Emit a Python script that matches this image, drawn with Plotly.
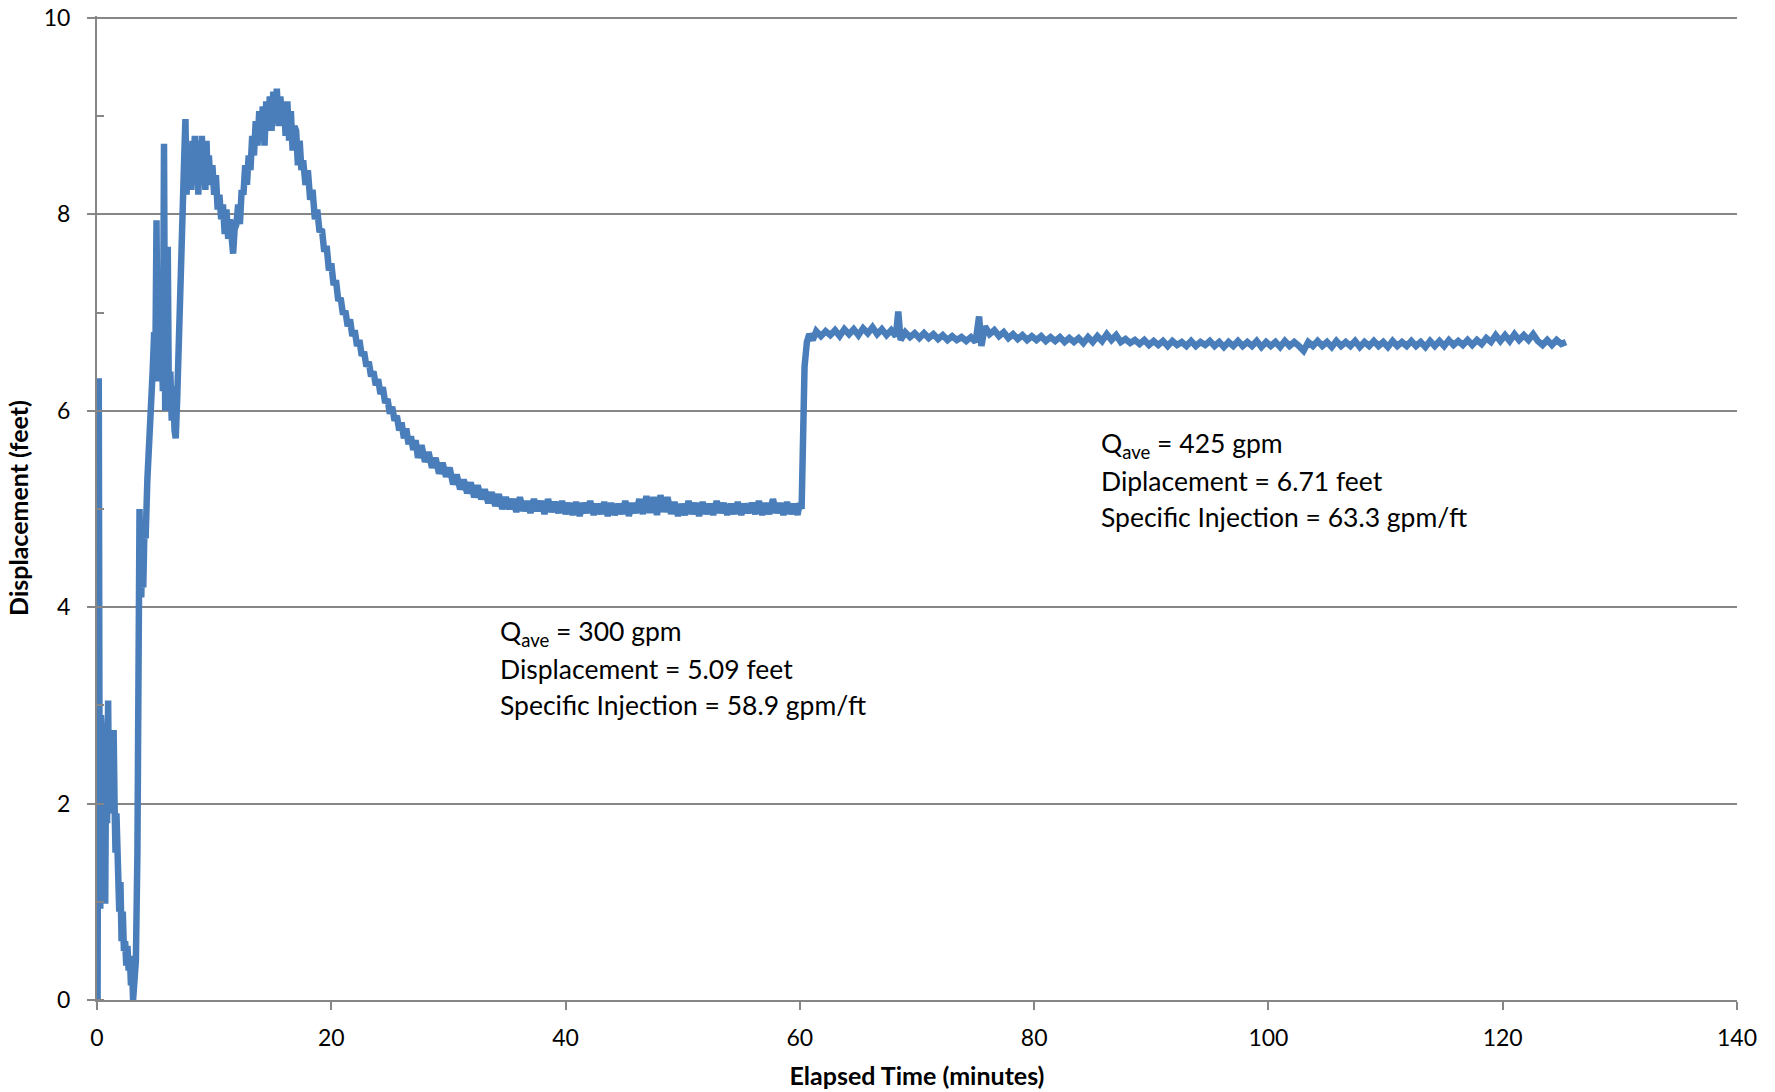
import plotly.graph_objects as go

# Elapsed time (minutes) and displacement (feet)
time_a = [0.05, 0.15, 0.22, 0.28, 0.34, 0.4, 0.46, 0.52, 0.58, 0.64, 0.7, 0.78, 0.86, 0.95, 1.02, 1.1,
          1.18, 1.26, 1.34, 1.42, 1.5, 1.58, 1.66, 1.74, 1.82, 1.9, 2.0, 2.1, 2.2, 2.3, 2.4, 2.5,
          2.6, 2.7, 2.8, 2.9, 3.0, 3.08, 3.2, 3.32, 3.45, 3.55, 3.63, 3.7, 3.78, 3.86, 3.95, 4.05,
          4.15, 4.3, 4.45, 4.6, 4.75, 4.88, 4.98, 5.08, 5.18, 5.28, 5.38, 5.5, 5.62, 5.72, 5.82, 5.92,
          6.04, 6.14, 6.26, 6.38, 6.5, 6.62, 6.72, 6.84, 6.96, 7.08, 7.2, 7.32, 7.45, 7.55, 7.65, 7.75,
          7.85, 7.95]
disp_a = [0.0, 6.33, 2.2, 0.93, 2.9, 1.7, 2.6, 1.9, 2.8, 1.6, 0.98, 2.5, 1.8, 3.05, 2.0, 2.75,
          1.9, 2.7, 2.0, 2.75, 2.0, 1.5, 1.9, 1.2, 1.4, 0.9, 1.2, 0.6, 0.9, 0.5, 0.6, 0.35,
          0.55, 0.3, 0.45, 0.15, 0.3, 0.0, 0.2, 0.4, 1.5, 3.3, 5.0, 4.3, 4.1, 4.6, 4.2, 4.8,
          4.7, 5.3, 5.6, 6.0, 6.4, 6.8, 6.5, 7.94, 6.3, 6.9, 6.4, 6.9, 6.2, 8.72, 6.0, 6.6,
          7.67, 6.0, 6.4, 5.9, 6.25, 5.8, 5.72, 6.1, 6.7, 7.4, 7.8, 8.3, 8.6, 8.97, 8.2, 8.7,
          8.3, 8.6]

time_b = [8.05, 8.15, 8.25, 8.35, 8.45, 8.55, 8.65, 8.75, 8.85, 8.95, 9.05, 9.15, 9.25, 9.35, 9.45, 9.55,
          9.7, 9.85, 10.0, 10.15, 10.3, 10.45, 10.6, 10.75, 10.9, 11.05, 11.2, 11.35, 11.5, 11.62, 11.75, 11.9,
          12.05, 12.2, 12.35, 12.5, 12.65, 12.8, 12.95, 13.1, 13.25, 13.4, 13.55, 13.7, 13.85, 14.0, 14.15, 14.3,
          14.45, 14.6, 14.75, 14.9, 15.05, 15.2, 15.35, 15.5, 15.65, 15.8, 15.95, 16.1, 16.25, 16.4, 16.55, 16.7,
          16.85, 17.0, 17.15, 17.3, 17.45, 17.6, 17.8, 18.0, 18.2, 18.4, 18.6, 18.8, 19.0, 19.2, 19.4, 19.6,
          19.8, 20.0, 20.2, 20.4, 20.6, 20.8, 21.0, 21.2, 21.4, 21.6, 21.8, 22.0, 22.2, 22.4, 22.6, 22.8,
          23.0, 23.2, 23.4, 23.6, 23.8, 24.0, 24.2, 24.4, 24.6, 24.8, 25.0, 25.2, 25.4, 25.6, 25.8, 26.0,
          26.2, 26.4, 26.6, 26.8, 27.0, 27.2]
disp_b = [8.25, 8.75, 8.4, 8.8, 8.3, 8.7, 8.2, 8.75, 8.3, 8.8, 8.4, 8.6, 8.25, 8.75, 8.3, 8.6,
          8.3, 8.5, 8.2, 8.4, 8.05, 8.2, 7.95, 8.1, 7.8, 8.05, 7.75, 7.95, 7.7, 7.6, 7.85, 7.9,
          8.1, 7.9, 8.25, 8.2, 8.5, 8.3, 8.6, 8.45, 8.8, 8.6, 8.95, 8.7, 9.05, 8.75, 9.1, 8.7,
          9.15, 8.85, 9.2, 8.85, 9.25, 8.95, 9.28, 8.9, 9.2, 8.95, 9.15, 8.8, 9.15, 8.75, 9.05, 8.65,
          8.9, 8.85, 8.5, 8.75, 8.45, 8.55, 8.3, 8.45, 8.15, 8.25, 7.95, 8.05, 7.82, 7.85, 7.62, 7.68,
          7.43, 7.5, 7.28, 7.33, 7.12, 7.15, 6.98, 7.02, 6.86, 6.93, 6.76, 6.82, 6.66, 6.72, 6.56, 6.6,
          6.45, 6.5, 6.35, 6.4, 6.26, 6.32, 6.17, 6.24, 6.08, 6.12, 5.97, 6.04, 5.9, 5.95, 5.8, 5.88,
          5.72, 5.82, 5.66, 5.74, 5.6, 5.7]

time_c = [27.4, 27.7, 28.0, 28.3, 28.6, 28.9, 29.2, 29.5, 29.8, 30.1, 30.4, 30.7, 31.0, 31.3, 31.6, 31.9,
          32.2, 32.5, 32.8, 33.1, 33.4, 33.7, 34.0, 34.3, 34.6, 34.9, 35.2, 35.5, 35.8, 36.1, 36.4, 36.7,
          37.0, 37.3, 37.6, 37.9, 38.2, 38.5, 38.8, 39.1, 39.4, 39.7, 40.0, 40.3, 40.6, 40.9, 41.2, 41.5,
          41.8, 42.1, 42.4, 42.7, 43.0, 43.3, 43.6, 43.9, 44.2, 44.5, 44.8, 45.1, 45.4, 45.7, 46.0, 46.3,
          46.6, 46.9, 47.2, 47.5, 47.8, 48.1, 48.4, 48.7, 49.0, 49.3, 49.6, 49.9, 50.2, 50.5, 50.8, 51.1,
          51.4, 51.7, 52.0, 52.3, 52.6, 52.9, 53.2, 53.5, 53.8, 54.1, 54.4, 54.7, 55.0, 55.3, 55.6, 55.9,
          56.2, 56.5, 56.8, 57.1, 57.4, 57.7, 58.0, 58.3, 58.6, 58.9, 59.2, 59.5, 59.8, 60.0, 60.15, 60.25,
          60.4, 60.6, 60.8, 61.1]
disp_c = [5.52, 5.65, 5.48, 5.58, 5.42, 5.52, 5.36, 5.47, 5.33, 5.42, 5.25, 5.35, 5.2, 5.3, 5.16, 5.27,
          5.12, 5.24, 5.1, 5.2, 5.06, 5.17, 5.03, 5.15, 5.0, 5.12, 5.0, 5.1, 4.97, 5.12, 4.98, 5.08,
          4.96, 5.1, 4.98, 5.08, 4.95, 5.1, 4.97, 5.07, 4.96, 5.08, 4.95, 5.06, 4.94, 5.07, 4.93, 5.06,
          4.96, 5.08, 4.94, 5.05, 4.95, 5.07, 4.93, 5.06, 4.94, 5.05, 4.95, 5.08, 4.93, 5.06, 4.96, 5.1,
          4.95, 5.13, 4.96, 5.12, 4.94, 5.14, 4.97, 5.12, 4.95, 5.07, 4.93, 5.05, 4.94, 5.08, 4.95, 5.06,
          4.93, 5.07, 4.95, 5.05, 4.94, 5.08, 4.96, 5.06, 4.94, 5.05, 4.95, 5.07, 4.94, 5.05, 4.96, 5.06,
          4.95, 5.08, 4.94, 5.06, 4.95, 5.1, 4.96, 5.06, 4.94, 5.07, 4.95, 5.05, 4.94, 5.06, 5.0, 5.94,
          6.45, 6.7, 6.78, 6.72]

time_d = [61.4, 61.8, 62.2, 62.6, 63.0, 63.4, 63.8, 64.2, 64.6, 65.0, 65.4, 65.8, 66.2, 66.6, 67.0, 67.4,
          67.8, 68.2, 68.4, 68.6, 69.0, 69.4, 69.8, 70.2, 70.6, 71.0, 71.4, 71.8, 72.2, 72.6, 73.0, 73.4,
          73.8, 74.2, 74.6, 75.0, 75.3, 75.5, 75.8, 76.2, 76.6, 77.0, 77.4, 77.8, 78.2, 78.6, 79.0, 79.4,
          79.8, 80.2, 80.6, 81.0, 81.4, 81.8, 82.2, 82.6, 83.0, 83.4, 83.8, 84.2, 84.6, 85.0, 85.4, 85.8,
          86.2, 86.6, 87.0, 87.4, 87.8, 88.2, 88.6, 89.0, 89.4, 89.8, 90.2, 90.6, 91.0, 91.4, 91.8, 92.2,
          92.6, 93.0, 93.4, 93.8, 94.2, 94.6, 95.0, 95.4, 95.8, 96.2, 96.6, 97.0, 97.4, 97.8, 98.2, 98.6,
          99.0, 99.4, 99.8, 100.2, 100.6, 101.0, 101.4, 101.8, 102.2, 102.6, 103.0, 103.4, 103.8, 104.2, 104.6, 105.0,
          105.4, 105.8, 106.2, 106.6, 107.0, 107.4, 107.8, 108.2, 108.6, 109.0, 109.4, 109.8, 110.2, 110.6, 111.0, 111.4,
          111.8, 112.2, 112.6, 113.0, 113.4, 113.8, 114.2, 114.6, 115.0, 115.4, 115.8, 116.2, 116.6, 117.0, 117.4, 117.8,
          118.2, 118.6, 119.0, 119.4, 119.8, 120.2, 120.6, 121.0, 121.4, 121.8, 122.2, 122.6, 123.0, 123.4, 123.8, 124.2,
          124.6, 125.0, 125.4]
disp_d = [6.81, 6.76, 6.81, 6.77, 6.82, 6.76, 6.83, 6.78, 6.83, 6.77, 6.84, 6.79, 6.85, 6.78, 6.83, 6.77,
          6.82, 6.76, 7.01, 6.72, 6.8, 6.75, 6.79, 6.74, 6.79, 6.74, 6.78, 6.73, 6.77, 6.72, 6.76, 6.72,
          6.75, 6.71, 6.75, 6.7, 6.96, 6.66, 6.86, 6.78, 6.82, 6.76, 6.8, 6.74, 6.78, 6.73, 6.77, 6.72,
          6.76, 6.72, 6.76, 6.71, 6.75, 6.71, 6.75, 6.7, 6.74, 6.7, 6.74, 6.69, 6.75, 6.7, 6.76, 6.71,
          6.78, 6.72, 6.77, 6.7, 6.73, 6.69, 6.72, 6.68, 6.72, 6.67, 6.71, 6.67, 6.71, 6.66, 6.71, 6.67,
          6.7, 6.66, 6.71, 6.66, 6.7, 6.67, 6.71, 6.66, 6.7, 6.65, 6.7, 6.66, 6.71, 6.66, 6.7, 6.66,
          6.71, 6.65, 6.7, 6.66, 6.7, 6.65, 6.71, 6.66, 6.7, 6.66, 6.61, 6.7, 6.66, 6.71, 6.66, 6.7,
          6.65, 6.71, 6.66, 6.7, 6.66, 6.71, 6.65, 6.7, 6.66, 6.71, 6.66, 6.7, 6.65, 6.71, 6.66, 6.7,
          6.66, 6.71, 6.66, 6.7, 6.65, 6.71, 6.66, 6.71, 6.66, 6.72, 6.67, 6.71, 6.67, 6.72, 6.67, 6.72,
          6.68, 6.74, 6.7, 6.77, 6.71, 6.77, 6.71, 6.78, 6.72, 6.77, 6.72, 6.78, 6.71, 6.67, 6.72, 6.67,
          6.72, 6.68, 6.7]

elapsed_time = time_a + time_b + time_c + time_d
displacement = disp_a + disp_b + disp_c + disp_d

x_ticks = [0, 20, 40, 60, 80, 100, 120, 140]
y_ticks = [0, 2, 4, 6, 8, 10]

note_1 = ["Q<sub>ave</sub> = 300 gpm", "Displacement = 5.09 feet", "Specific Injection = 58.9 gpm/ft"]
note_2 = ["Q<sub>ave</sub> = 425 gpm", "Diplacement = 6.71 feet", "Specific Injection = 63.3 gpm/ft"]
note_1_x = 34.2
note_1_y = [3.74, 3.37, 3.00]
note_2_x = 85.5
note_2_y = [5.65, 5.285, 4.92]

FONT = "Lato"
AXIS_GREY = "#868686"

fig = go.Figure()
fig.add_trace(go.Scatter(
    x=elapsed_time, y=displacement, mode="lines",
    line=dict(color="#4a7ebb", width=6.5),
    hoverinfo="x+y", showlegend=False,
))

for lines, xx, ys in [(note_1, note_1_x, note_1_y), (note_2, note_2_x, note_2_y)]:
    for txt, yy in zip(lines, ys):
        fig.add_annotation(x=xx, y=yy, xref="x", yref="y", text=txt, showarrow=False,
                           xanchor="left", yanchor="middle",
                           font=dict(family=FONT, size=26.5, color="#000000"))

fig.update_layout(
    width=1775, height=1092,
    margin=dict(l=97, r=38, t=16, b=92),
    paper_bgcolor="white", plot_bgcolor="white",
    font=dict(family=FONT, color="#000000"),
    xaxis=dict(
        range=[0, 140], tickvals=x_ticks, ticktext=[str(v) for v in x_ticks],
        showgrid=False, zeroline=False,
        showline=True, linecolor=AXIS_GREY, linewidth=2,
        ticks="outside", ticklen=8, tickwidth=2, tickcolor=AXIS_GREY,
        tickfont=dict(family=FONT, size=23, color="#000000"),
        ticklabelstandoff=8,
        title=dict(text="<b>Elapsed Time (minutes)</b>", font=dict(family=FONT, size=25, color="#000000"), standoff=18),
        automargin=False,
    ),
    yaxis=dict(
        range=[0, 10.02], tickvals=y_ticks, ticktext=[str(v) for v in y_ticks],
        showgrid=True, gridcolor=AXIS_GREY, gridwidth=1.5,
        zeroline=False,
        showline=True, linecolor=AXIS_GREY, linewidth=2,
        ticks="outside", ticklen=8, tickwidth=2, tickcolor=AXIS_GREY,
        minor=dict(dtick=1, tick0=0, ticks="inside", ticklen=7, tickwidth=1.5, tickcolor=AXIS_GREY, showgrid=False),
        tickfont=dict(family=FONT, size=23, color="#000000"),
        ticklabelstandoff=12,
        title=dict(text="<b>Displacement (feet)</b>", font=dict(family=FONT, size=25, color="#000000"), standoff=8),
        automargin=False,
    ),
)

fig.write_html("out.html")
